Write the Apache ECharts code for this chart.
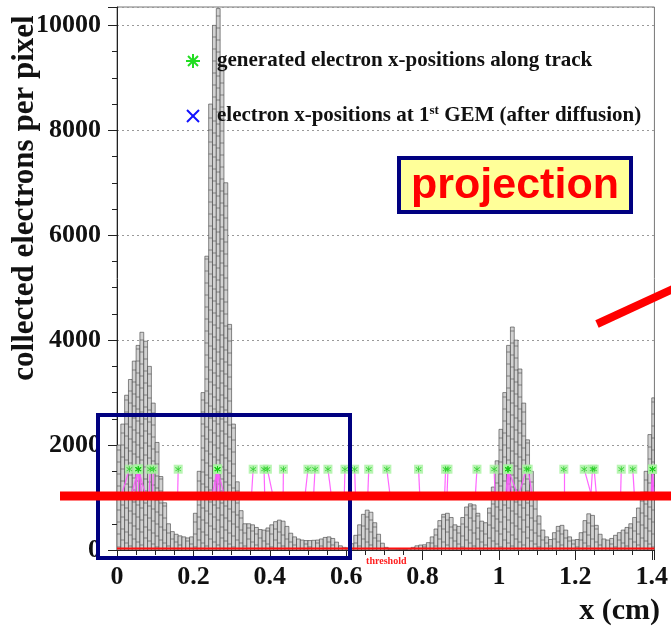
<!DOCTYPE html>
<html><head><meta charset="utf-8">
<script src="https://cdn.jsdelivr.net/npm/echarts@6/dist/echarts.min.js"></script>
<style>html,body{margin:0;padding:0;background:#fff}#c{width:671px;height:631px}</style>
</head><body><div id="c"></div>
<script>
// ---- data ----
const binWidth = 0.01; // cm per pixel bin
const counts = [
 2000,2400,2950,3250,3600,3900,4150,3980,3500,2800,
 2050,1400,900,500,350,300,270,250,230,250,
 700,1500,3000,5600,8500,10000,10320,9300,7000,4300,
 2400,1300,750,500,500,480,430,390,380,420,
 480,540,570,550,450,320,250,210,190,180,
 180,185,190,210,240,250,220,150,80,50,
 40,120,280,480,680,760,720,520,300,130,
 50,0,0,5,5,10,20,50,80,95,
 100,140,250,400,560,680,700,620,480,450,
 620,820,880,860,700,550,520,800,1200,1700,
 2300,3000,3900,4250,4000,3450,2800,2100,1500,1000,
 650,380,250,200,330,450,470,380,250,190,
 200,330,560,690,660,470,300,210,190,220,
 280,330,380,430,500,620,800,1100,1500,2200,
 2900
];
// generated electron x-positions (cm) and their positions after diffusion (cm), one pair per line
const genX = [0.0324,0.0557,0.0557,0.0557,0.0557,0.0557,0.0869,0.0954,0.1602,
  0.2632,0.2632,0.2632,0.2632,0.2632,0.3565,0.3850,0.3936,0.4356,0.4999,0.5185,0.5522,0.5968,0.6222,
  0.6591,0.7065,0.7895,0.8603,0.8665,0.9424,0.9873,1.0236,1.0236,1.0236,1.0236,1.0236,1.0721,1.0765,
  1.1698,1.2232,1.2450,1.2491,1.3202,1.3503,1.4021,1.4021,1.4021];
const difX = [0.0109,0.0368,0.0454,0.0557,0.0661,0.0757,0.0843,0.0928,0.1587,
  0.2484,0.2554,0.2632,0.2709,0.2813,0.3521,0.3868,0.4084,0.4350,0.4921,0.5146,0.5613,0.5950,0.6243,
  0.6565,0.7151,0.7928,0.8577,0.8639,0.9381,0.9899,1.0176,1.0228,1.0280,1.0350,1.0506,1.0506,1.0869,
  1.1698,1.2424,1.2406,1.2554,1.3184,1.3547,1.3980,1.4021,1.4060];
const genY = 1540;     // display level of generated markers
const difY = 1030;     // display level of diffused markers
const thresholdY = 30;
const xMin = 0, xMax = 1.407, xStep = 0.2;
const yMin = 0, yMax = 10350, yStep = 2000;

// ---- chart ----
const chart = echarts.init(document.getElementById('c'), null, {renderer: 'canvas'});
const serif = "'Liberation Serif','Times New Roman',serif";
const sans = "'Liberation Sans',Arial,sans-serif";

const histData = counts.map((c, i) => [i * binWidth, (i + 1) * binWidth, c, i]);

function renderBin(params, api) {
  const x0 = api.value(0), x1 = api.value(1), v = api.value(2), idx = api.value(3);
  const p0 = api.coord([x0, 0]);
  const p1 = api.coord([x1, v]);
  const cs = params.coordSys;
  const shape = echarts.graphic.clipRectByRect(
    {x: p0[0], y: p1[1], width: p1[0] - p0[0], height: p0[1] - p1[1]},
    {x: cs.x, y: cs.y, width: cs.width, height: cs.height});
  if (!shape) return;
  const children = [{type: 'rect', shape: shape, style: {fill: '#d2d2d2', stroke: '#3c3c3c', lineWidth: 0.6}}];
  const step = 10;
  let yy = shape.y + shape.height - ((idx * 7) % step) - 3;
  while (yy > shape.y + 2) {
    children.push({type: 'line', shape: {x1: shape.x, y1: yy, x2: shape.x + shape.width, y2: yy},
      style: {stroke: '#4a4a4a', lineWidth: 0.6}});
    yy -= step + ((idx + Math.round(yy)) % 4);
  }
  return {type: 'group', children: children};
}

const asterisk = 'path://M4.4,0h1.2v4.1l3.1-2.6l0.8,0.9l-3.3,2.6l3.3,2.6l-0.8,0.9l-3.1-2.6v4.1h-1.2v-4.1l-3.1,2.6l-0.8-0.9l3.3-2.6l-3.3-2.6l0.8-0.9l3.1,2.6z';

const option = {
  backgroundColor: '#ffffff',
  animation: false,
  grid: {left: 117, right: 11, top: 7, bottom: 81, show: true, borderColor: '#777', borderWidth: 1, backgroundColor: 'transparent'},
  xAxis: {
    type: 'value', min: xMin, max: xMax, interval: xStep,
    axisLine: {show: true, onZero: false, lineStyle: {color: '#222', width: 1}},
    axisTick: {show: true, inside: false, length: 10, lineStyle: {color: '#222'}},
    minorTick: {show: true, splitNumber: 4, length: 5, lineStyle: {color: '#222'}},
    splitLine: {show: false},
    axisLabel: {
      margin: 14, fontFamily: serif, fontWeight: 'bold', fontSize: 26, color: '#111',
      formatter: v => Math.abs(v / xStep - Math.round(v / xStep)) < 1e-6 ? String(+v.toFixed(1)) : ''
    }
  },
  yAxis: {
    type: 'value', min: yMin, max: yMax, interval: yStep,
    axisLine: {show: true, lineStyle: {color: '#222', width: 1}},
    axisTick: {show: true, inside: false, length: 9, lineStyle: {color: '#222'}},
    minorTick: {show: true, splitNumber: 4, length: 5, lineStyle: {color: '#222'}},
    splitLine: {show: true, lineStyle: {color: '#999', type: [2, 3], width: 1}},
    axisLabel: {
      margin: 16, fontFamily: serif, fontWeight: 'bold', fontSize: 26, color: '#111',
      formatter: v => (v % yStep === 0) ? String(v) : ''
    }
  },
  series: [
    {type: 'custom', name: 'histogram', renderItem: renderBin, data: histData,
     encode: {x: [0, 1], y: 2}, z: 2},
    {type: 'line', name: 'threshold', data: [[xMin, thresholdY], [xMax, thresholdY]], symbol: 'none',
     lineStyle: {color: '#ff1010', width: 2}, z: 3, silent: true},
    {type: 'lines', coordinateSystem: 'cartesian2d', name: 'diffusion',
     data: genX.map((g, i) => ({coords: [[g, genY], [difX[i], difY]]})),
     lineStyle: {color: '#ff55ff', width: 1.2, opacity: 0.9}, z: 4, silent: true},
    {type: 'scatter', name: 'after diffusion', data: difX.map(d => [d, difY]), symbol: 'path://M0,1l1,-1l4,4l4,-4l1,1l-4,4l4,4l-1,1l-4,-4l-4,4l-1,-1l4,-4z',
     symbolSize: 8, itemStyle: {color: '#0000ff'}, z: 5, silent: true},
    {type: 'scatter', name: 'generated bg', data: genX.map(g => [g, genY]), symbol: 'rect', symbolSize: 9,
     itemStyle: {color: '#a8f2a0'}, z: 6, silent: true},
    {type: 'scatter', name: 'generated', data: genX.map(g => [g, genY]), symbol: asterisk, symbolSize: 6,
     itemStyle: {color: '#14c814'}, z: 7, silent: true}
  ],
  graphic: []
};
chart.setOption(option);

const g = [];
// y-axis title
g.push({type: 'text', x: 25, y: 198, rotation: Math.PI / 2, z: 50,
  style: {text: 'collected electrons per pixel', font: 'bold 31px ' + serif, fill: '#111', align: 'center', verticalAlign: 'middle'}});
// x-axis title
g.push({type: 'text', x: 660, y: 611, z: 50,
  style: {text: 'x (cm)', font: 'bold 30px ' + serif, fill: '#111', align: 'right', verticalAlign: 'middle'}});
// threshold label
const thP = chart.convertToPixel({gridIndex: 0}, [0.705, 0]);
g.push({type: 'text', x: thP[0], y: thP[1] + 11, z: 50,
  style: {text: 'threshold', font: 'bold 10px ' + serif, fill: '#ff2020', align: 'center', verticalAlign: 'middle'}});
// legend
g.push({type: 'group', x: 193, y: 61, z: 50, children: [
  {type: 'line', shape: {x1: -7, y1: 0, x2: 7, y2: 0}, style: {stroke: '#22dd22', lineWidth: 2}},
  {type: 'line', shape: {x1: 0, y1: -7, x2: 0, y2: 7}, style: {stroke: '#22dd22', lineWidth: 2}},
  {type: 'line', shape: {x1: -5, y1: -5, x2: 5, y2: 5}, style: {stroke: '#22dd22', lineWidth: 2}},
  {type: 'line', shape: {x1: -5, y1: 5, x2: 5, y2: -5}, style: {stroke: '#22dd22', lineWidth: 2}}
]});
g.push({type: 'group', x: 193, y: 116, z: 50, children: [
  {type: 'line', shape: {x1: -6, y1: -6, x2: 6, y2: 6}, style: {stroke: '#1010ff', lineWidth: 2}},
  {type: 'line', shape: {x1: -6, y1: 6, x2: 6, y2: -6}, style: {stroke: '#1010ff', lineWidth: 2}}
]});
g.push({type: 'text', x: 217, y: 61, z: 50,
  style: {text: 'generated electron x-positions along track', font: 'bold 21px ' + serif, fill: '#111', verticalAlign: 'middle'}});
g.push({type: 'text', x: 217, y: 116, z: 50,
  style: {text: '{a|electron x-positions at 1}{s|st}{a| GEM (after diffusion)}', verticalAlign: 'middle',
    rich: {a: {font: 'bold 21px ' + serif, fill: '#111'},
           s: {font: 'bold 13px ' + serif, fill: '#111', verticalAlign: 'top', padding: [0, 0, 10, 0]}}}});
// annotations
g.push({type: 'rect', z: 60, shape: {x: 98, y: 415, width: 252, height: 143},
  style: {fill: 'none', stroke: '#000080', lineWidth: 4}});
g.push({type: 'line', z: 61, shape: {x1: 60, y1: 496, x2: 671, y2: 496},
  style: {stroke: '#ff0000', lineWidth: 9}});
g.push({type: 'line', z: 61, shape: {x1: 597, y1: 324, x2: 675, y2: 288},
  style: {stroke: '#ff0000', lineWidth: 8}});
g.push({type: 'rect', z: 60, shape: {x: 399, y: 158, width: 232, height: 54},
  style: {fill: '#ffff99', stroke: '#000080', lineWidth: 4}});
g.push({type: 'text', z: 62, x: 515, y: 186,
  style: {text: 'projection', font: 'bold 43px ' + sans, fill: '#ff0000', align: 'center', verticalAlign: 'middle'}});

chart.setOption({graphic: g});
</script></body></html>
